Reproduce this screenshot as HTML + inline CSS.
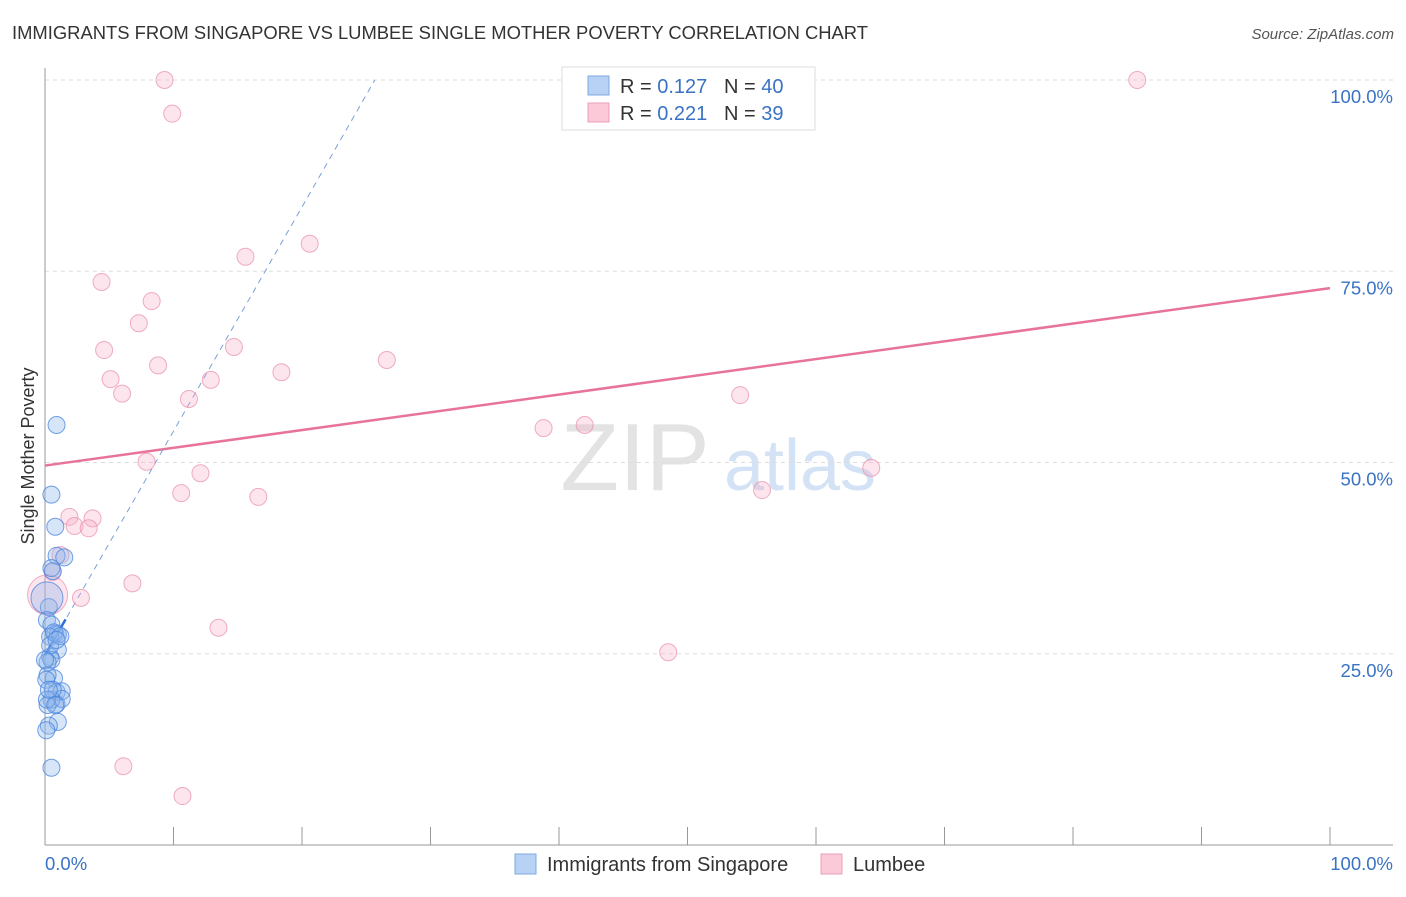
<!DOCTYPE html>
<html><head><meta charset="utf-8"><style>
body{margin:0;background:#fff;font-family:"Liberation Sans",sans-serif}
svg text{font-family:"Liberation Sans",sans-serif}
</style></head><body>
<svg id="chart" width="1406" height="892" viewBox="0 0 1406 892">
<text x="12" y="39" font-size="18.4" fill="#333">IMMIGRANTS FROM SINGAPORE VS LUMBEE SINGLE MOTHER POVERTY CORRELATION CHART</text>
<text x="1394" y="39" font-size="15" fill="#555" font-style="italic" text-anchor="end">Source: ZipAtlas.com</text>
<g>
<text x="635" y="490" font-size="96" fill="#ddd" font-family="Liberation Serif" text-anchor="middle" opacity="0.8">ZIP</text>
<text x="800" y="490" font-size="72" fill="#c9dcf3" text-anchor="middle" opacity="0.8">atlas</text>
</g>
<g id="grid"></g>
<g id="axes"></g>
<g id="trend"></g>
<g id="points"></g>
<text x="34" y="456" font-size="18" fill="#333" text-anchor="middle" transform="rotate(-90 34 456)">Single Mother Poverty</text>
<text x="45" y="870" font-size="18.5" fill="#3a72c4">0.0%</text>
<text x="1393" y="870" font-size="18.5" fill="#3a72c4" text-anchor="end">100.0%</text>
<g>
<rect x="562" y="67" width="253" height="63" fill="#fff" stroke="#ddd"/>
<rect x="588" y="76" width="21" height="19" fill="#b7d2f5" stroke="#7ea8e0"/>
<rect x="588" y="103" width="21" height="19" fill="#fbc9d8" stroke="#ee9fb8"/>
<text x="620" y="93" font-size="20" fill="#333">R = <tspan fill="#3a72c4">0.127</tspan></text>
<text x="724" y="93" font-size="20" fill="#333">N = <tspan fill="#3a72c4">40</tspan></text>
<text x="620" y="120" font-size="20" fill="#333">R = <tspan fill="#3a72c4">0.221</tspan></text>
<text x="724" y="120" font-size="20" fill="#333">N = <tspan fill="#3a72c4"> 39</tspan></text>
</g>
<g>
<rect x="515" y="854" width="21" height="20" fill="#b7d2f5" stroke="#7ea8e0"/>
<text x="547" y="871" font-size="20" fill="#333">Immigrants from Singapore</text>
<rect x="821" y="854" width="21" height="20" fill="#fbc9d8" stroke="#ee9fb8"/>
<text x="853" y="871" font-size="20" fill="#333">Lumbee</text>
</g>
</svg>
<script>
const yTicks=[25,50,75,100];
const yTickLabels=["25.0%","50.0%","75.0%","100.0%"];
const xTicks=[0,10,20,30,40,50,60,70,80,90,100];
const blueX=[0.9,0.5,0.8,0.9,1.5,0.6,0.3,0.15,0.15,0.5,0.8,1.0,0.4,1.0,0.4,0.5,0.2,0.7,0.2,0.9,1.3,0.9,1.3,0.5,0.2,1.0,0.3,0.5,0.5,0.7,0.1,0.4,0.6,1.2,0.0,0.15,0.9,0.3,0.8,0.1];
const blueY=[54.9,45.8,41.6,37.8,37.6,35.8,31.1,32.3,29.4,28.8,27.6,27.5,27.2,25.5,24.6,24.2,23.9,21.8,22.2,20.0,20.1,18.4,19.1,19.0,18.3,16.1,15.6,10.1,36.2,27.8,21.6,26.1,20.3,27.3,24.2,19.0,26.8,20.3,18.3,15.0];
const pinkX=[9.3,9.9,20.6,15.6,4.4,8.3,7.3,4.6,14.7,8.8,5.1,12.9,18.4,26.6,6.0,11.2,54.1,38.8,42.0,7.9,12.1,10.6,16.6,55.8,64.3,1.9,3.7,2.3,3.4,1.2,0.6,0.2,2.8,6.8,13.5,48.5,6.1,10.7,85.0];
const pinkY=[100,95.6,78.6,76.9,73.6,71.1,68.2,64.7,65.1,62.7,60.9,60.8,61.8,63.4,59.0,58.3,58.8,54.5,54.9,50.1,48.6,46.0,45.5,46.4,49.3,42.9,42.7,41.7,41.4,37.9,35.7,32.7,32.3,34.2,28.4,25.2,10.3,6.4,100];
const blueTrend=[24.8,2.93];
const pinkTrend=[49.6,0.232];
const NS="http://www.w3.org/2000/svg";
const sx=v=>45+v*12.85, sy=v=>845-v*7.65;
function mk(tag,attrs,parent){const e=document.createElementNS(NS,tag);for(const k in attrs)e.setAttribute(k,attrs[k]);document.getElementById(parent).appendChild(e);return e;}
yTicks.forEach((t,i)=>{
 const g=mk('line',{x1:45,x2:1393,y1:sy(t),y2:sy(t),stroke:'#ddd','stroke-dasharray':'4,4'},'grid');
 
 
 const l=mk('text',{x:1393,y:sy(t)+23,'font-size':18.5,fill:'#3a72c4','text-anchor':'end'},'axes');
 l.textContent=yTickLabels[i];
 
 
});
const ya=mk('line',{x1:45,x2:45,y1:68,y2:845,stroke:'#999'},'axes');


const xa=mk('line',{x1:45,x2:1393,y1:845,y2:845,stroke:'#999'},'axes');


xTicks.forEach(t=>{
 const k=mk('line',{x1:sx(t),x2:sx(t),y1:827,y2:845,stroke:'#999'},'axes');
 
 
});
const pl=mk('line',{x1:sx(0),y1:sy(pinkTrend[0]),x2:sx(100),y2:sy(pinkTrend[0]+100*pinkTrend[1]),stroke:'#e8739a','stroke-width':2.5},'trend');


const bxEnd=(100-blueTrend[0])/blueTrend[1];
const bl=mk('line',{x1:sx(0),y1:sy(blueTrend[0]),x2:sx(bxEnd),y2:sy(100),stroke:'#7b9fd8','stroke-width':1,'stroke-dasharray':'6,5'},'trend');


const bs=mk('line',{x1:sx(0),y1:sy(blueTrend[0]),x2:sx(1.6),y2:sy(blueTrend[0]+1.6*blueTrend[1]),stroke:'#2f6fd6','stroke-width':2.5},'trend');


pinkX.forEach((x,i)=>{
 const c=mk('circle',{cx:sx(x),cy:sy(pinkY[i]),r:(i==31?20:8.5),fill:'rgba(247,170,195,0.3)',stroke:'rgba(232,140,170,0.7)','stroke-width':1},'points');
 
 
});
blueX.forEach((x,i)=>{
 const c=mk('circle',{cx:sx(x),cy:sy(blueY[i]),r:(i==7?16:8.5),fill:'rgba(140,180,235,0.35)',stroke:'rgba(70,130,220,0.75)','stroke-width':1},'points');
 
 
});
</script>
</body></html>
